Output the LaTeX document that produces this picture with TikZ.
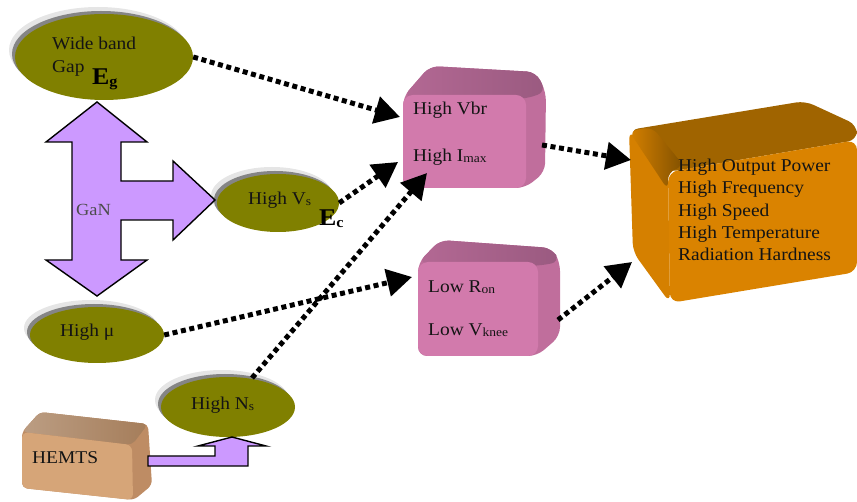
\documentclass[tikz,border=0pt]{standalone}
\usepackage{fontspec}
\setmainfont[FakeStretch=1.08]{Liberation Serif}
\usetikzlibrary{arrows.meta,shapes.geometric}
\definecolor{myolive}{HTML}{808000}
\definecolor{lav}{HTML}{CC99FF}
\definecolor{pinkfront}{HTML}{D27AAC}
\definecolor{pinkside}{HTML}{C06E9C}
\definecolor{pinktop}{HTML}{9A5A80}
\definecolor{tanfront}{HTML}{D6A578}
\definecolor{tanside}{HTML}{BE8C64}
\definecolor{tantop}{HTML}{A57D5A}
\definecolor{orfront}{HTML}{DA8300}
\definecolor{orside}{HTML}{D58000}
\definecolor{ortop}{HTML}{A06400}
\newcommand\sbs[1]{\raisebox{-1.5pt}{\fontsize{12.5}{12.5}\selectfont #1}}
\begin{document}
\begin{tikzpicture}[x=1pt,y=-1pt,
  blob/.style={ellipse, fill=myolive, inner sep=0pt},
  sh1/.style={fill=black!10},
  sh2/.style={fill=black!48},
  txt/.style={font=\fontsize{18}{21}\selectfont, inner sep=0pt, anchor=west, text=black!92},
  big/.style={font=\fontsize{24}{24}\selectfont\bfseries, inner sep=0pt, anchor=base west},
  flow/.style={line width=5pt, dash pattern=on 5pt off 3.6pt, -{Triangle[length=25pt,width=27pt]}},
  fat/.style={fill=lav, draw=black, line width=1.4pt, line join=miter}]
\useasboundingbox (0,0) rectangle (857,502);

% ---------- ellipses with shadows ----------
\fill[sh1] (98,50) ellipse [x radius=89, y radius=43];
\fill[sh2] (101,54) ellipse [x radius=89, y radius=43];
\node[blob, minimum width=178pt, minimum height=86pt] (eg) at (104,57) {};

\fill[sh1] (272,196) ellipse [x radius=61, y radius=29];
\fill[sh2] (275,200) ellipse [x radius=61, y radius=29];
\node[blob, minimum width=122pt, minimum height=58pt] (vs) at (278,203) {};

\fill[sh1] (91,328) ellipse [x radius=67, y radius=28];
\fill[sh2] (94,332) ellipse [x radius=67, y radius=28];
\node[blob, minimum width=134pt, minimum height=56pt] (mu) at (97,335) {};

\fill[sh1] (222,400) ellipse [x radius=67, y radius=30];
\fill[sh2] (225,404) ellipse [x radius=67, y radius=30];
\node[blob, minimum width=134pt, minimum height=60pt] (ns) at (228,407) {};

% ---------- GaN arrow ----------
\draw[fat] (97,102) -- (147,142) -- (121,142) -- (121,181) -- (173,181) -- (173,161)
  -- (215,200) -- (173,240) -- (173,220) -- (121,220) -- (121,260) -- (147,260)
  -- (97,296) -- (46,260) -- (72,260) -- (72,142) -- (46,142) -- cycle;
\node[txt, text=black!70, font=\fontsize{17}{19}\selectfont] (gan) at (76,210) {GaN};

% ---------- HEMTS box ----------
\fill[tanside, rounded corners=5pt] (22,432) -- (40,412) -- (148,424) -- (152,485) -- (134,500) -- (22,488) -- cycle;
\shade[left color=tantop!75!white, right color=tantop, rounded corners=5pt] (22,432) -- (40,412) -- (148,424) -- (132,445) -- cycle;
\fill[tanfront, rounded corners=6pt] (22,432) -- (132,445) -- (133,500) -- (22,488) -- cycle;
\node[txt] (hemts) at (32,458) {HEMTS};

% ---------- HEMTS bent arrow ----------
\draw[fat] (148,456) -- (215,456) -- (215,446) -- (198,446) -- (232,437) -- (266,446)
  -- (248,446) -- (248,466) -- (148,466) -- cycle;

% ---------- pink box 1 ----------
\fill[pinkside, rounded corners=9pt] (403,97) -- (430,66) -- (536,72) -- (546,92) -- (545,172) -- (525,188) -- (403,188) -- cycle;
\shade[left color=pinktop!55!pinkfront, right color=pinktop, rounded corners=9pt] (403,97) -- (430,66) -- (536,72) -- (546,92) -- (525,99) -- cycle;
\fill[pinkfront, rounded corners=10pt] (403,95) rectangle (526,188);
\node[inner sep=0pt, minimum width=123pt, minimum height=93pt] (b1) at (464.5,141.5) {};
\node[txt] at (413,110) {High Vbr};
\node[txt] at (413,157) {High I\sbs{max}};

% ---------- pink box 2 ----------
\fill[pinkside, rounded corners=9pt] (418,263) -- (440,240) -- (552,248) -- (560,262) -- (560,336) -- (537,356) -- (418,356) -- cycle;
\shade[left color=pinktop!55!pinkfront, right color=pinktop, rounded corners=9pt] (418,263) -- (440,240) -- (552,248) -- (560,262) -- (537,266) -- cycle;
\fill[pinkfront, rounded corners=10pt] (418,262) rectangle (538,356);
\node[inner sep=0pt, minimum width=120pt, minimum height=94pt] (b2) at (478,309) {};
\node[txt] at (428,287) {Low R\sbs{on}};
\node[txt] at (428,330) {Low V\sbs{knee}};

% ---------- orange box ----------
\fill[orside, rounded corners=9pt] (629,130) -- (668,172) -- (670,303) -- (633,252) -- cycle;
\fill[ortop, rounded corners=9pt] (629,130) -- (805,101) -- (857,125) -- (857,140) -- (668,172) -- cycle;
\shade[left color=orside, right color=ortop!80!black, rounded corners=8pt] (629,131) -- (652,127) -- (684,166) -- (668,172) -- (668,190) -- cycle;
\fill[orfront, rounded corners=10pt] (668,172) -- (857,140) -- (857,272) -- (670,303) -- cycle;
\node[inner sep=0pt, minimum width=189pt, minimum height=130pt] (res) at (762,222) {};
\node[txt, anchor=north west, align=left, font=\fontsize{18}{22.3}\selectfont] (restxt) at (678,159)
  {High Output Power\\High Frequency\\High Speed\\High Temperature\\Radiation Hardness};

% ---------- ellipse texts ----------
\node[txt] (wb) at (52,43) {Wide band};
\node[txt] (gap) at (52,68) {Gap};
\node[big] (egl) at (92,85) {E\raisebox{-2pt}{\fontsize{15}{15}\selectfont g}};
\node[txt] (vst) at (248,200) {High V\sbs{s}};
\node[big] (ecl) at (319,226) {E\raisebox{-2pt}{\fontsize{15}{15}\selectfont c}};
\node[txt] (mut) at (60,332) {High μ};
\node[txt] (nst) at (191,405) {High N\sbs{s}};

% ---------- connector end points ----------
\coordinate (b1a) at (400,117);
\coordinate (b1b) at (398,162);
\coordinate (b1c) at (427,173);
\coordinate (b2a) at (412,277);
\coordinate (b1o) at (542,145);
\coordinate (b2o) at (558,320);
\coordinate (ra) at (631,160);
\coordinate (rb) at (632,262);
\coordinate (nsa) at (252,378);

% ---------- dotted connectors ----------
\draw[flow] (eg.east) -- (b1a);
\draw[flow] (vs.east) -- (b1b);
\draw[flow] (nsa) -- (b1c);
\draw[flow] (mu.east) -- (b2a);
\draw[flow] (b1o) -- (ra);
\draw[flow] (b2o) -- (rb);
\end{tikzpicture}
\end{document}
